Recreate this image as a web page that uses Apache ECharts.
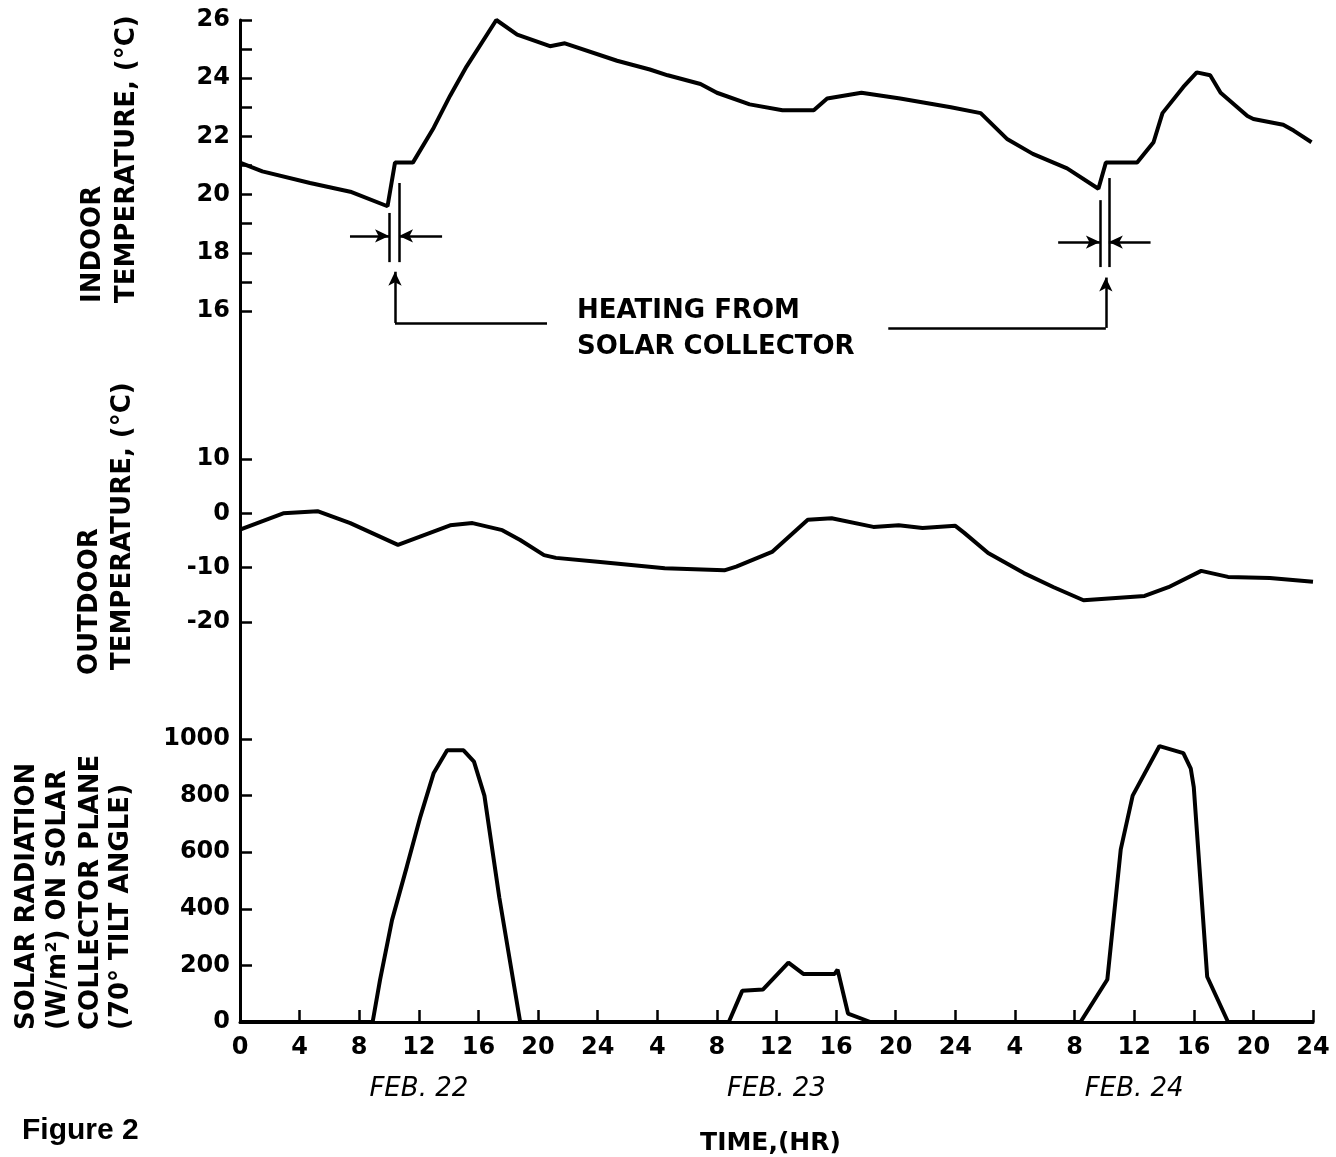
<!DOCTYPE html>
<html><head><meta charset="utf-8">
<script src="https://cdn.jsdelivr.net/npm/echarts@6/dist/echarts.min.js"></script>
<style>html,body{margin:0;padding:0;background:#fff}#c{width:1336px;height:1157px}</style>
</head><body><div id="c"></div>
<script>
// ---- data ----
const indoorHours = [0, 1.5, 4.7, 7.4, 9.9, 10.4, 11.6, 13.0, 14.1, 15.2, 17.2, 18.6, 20.8, 21.8, 25.3, 27.5, 28.7, 30.9, 32.0, 34.2, 36.4, 38.5, 39.4, 41.7, 44.3, 47.7, 49.7, 51.5, 53.2, 55.5, 57.6, 58.1, 60.2, 61.3, 61.9, 63.3, 64.2, 65.1, 65.8, 67.6, 68.0, 70.0, 70.7, 71.9];
const indoorTemp  = [21.1, 20.8, 20.4, 20.1, 19.6, 21.1, 21.1, 22.3, 23.4, 24.4, 26.0, 25.5, 25.1, 25.2, 24.6, 24.3, 24.1, 23.8, 23.5, 23.1, 22.9, 22.9, 23.3, 23.5, 23.3, 23.0, 22.8, 21.9, 21.4, 20.9, 20.2, 21.1, 21.1, 21.8, 22.8, 23.7, 24.2, 24.1, 23.5, 22.7, 22.6, 22.4, 22.2, 21.8];

const outdoorHours = [0, 2.9, 5.2, 7.4, 10.6, 14.1, 15.6, 17.6, 18.8, 20.4, 21.2, 24.0, 28.5, 32.5, 33.3, 35.7, 38.1, 39.7, 42.5, 44.2, 45.8, 48.0, 48.6, 50.2, 52.6, 54.6, 56.6, 60.7, 62.3, 64.5, 66.3, 69.1, 72];
const outdoorTemp  = [-3.0, 0, 0.4, -1.8, -5.8, -2.2, -1.8, -3.1, -4.9, -7.7, -8.2, -8.9, -10.1, -10.5, -9.8, -7.1, -1.2, -0.9, -2.5, -2.2, -2.7, -2.3, -3.6, -7.3, -11.0, -13.6, -16.0, -15.2, -13.6, -10.6, -11.7, -11.9, -12.6];

const solarHours = [0, 8.9, 9.4, 10.2, 11.2, 12.1, 13.0, 13.9, 15.0, 15.7, 16.4, 17.4, 18.8, 32.8, 33.7, 35.1, 36.8, 37.8, 39.9, 40.1, 40.8, 42.3, 56.4, 58.2, 59.1, 59.9, 61.7, 63.3, 63.8, 64.0, 64.9, 66.3, 72];
const solarValue = [0, 0, 150, 360, 550, 725, 880, 960, 960, 920, 800, 440, 0, 0, 110, 115, 210, 170, 170, 185, 30, 0, 0, 150, 610, 800, 975, 950, 895, 830, 160, 0, 0];

const indoorLabels = [16, 18, 20, 22, 24, 26];
const indoorTickValues = [16, 17, 18, 19, 20, 21, 22, 23, 24, 25, 26];
const outdoorLabels = [-20, -10, 0, 10];
const solarLabels = [0, 200, 400, 600, 800, 1000];
const dayCenters = [12, 36, 60];
const dayLabels = ['FEB. 22', 'FEB. 23', 'FEB. 24'];

// heating-period annotation (hour, indoor °C)
const heatingLines = [
  [[10.0, 19.37], [10.0, 17.68]], [[10.67, 20.40], [10.67, 17.68]],
  [[57.7, 19.81], [57.7, 17.51]], [[58.3, 20.57], [58.3, 17.51]],
  [[10.4, 15.59], [20.6, 15.59]], [[43.5, 15.42], [58.1, 15.42]]
];
const heatingArrows = [
  [[7.38, 18.58], [10.0, 18.58]], [[13.56, 18.58], [10.67, 18.58]],
  [[54.9, 18.37], [57.7, 18.37]], [[61.1, 18.37], [58.3, 18.37]],
  [[10.4, 15.59], [10.4, 17.35]], [[58.1, 15.42], [58.1, 17.15]]
];

const zip = (a, b) => a.map((v, i) => [v, b[i]]);
const FONT = 'DejaVu Sans';
const lblStyle = { color: '#000', fontFamily: FONT, fontWeight: 'bold', fontSize: 24, formatter: v => String(v) };
const axisLineStyle = { show: true, lineStyle: { color: '#000', width: 3 } };
const tickStyle = { show: true, inside: true, length: 12, lineStyle: { color: '#000', width: 2.5 } };

const markLineData = heatingLines.map(s => [{ coord: s[0], symbol: 'none' }, { coord: s[1], symbol: 'none' }])
  .concat(heatingArrows.map(s => [{ coord: s[0], symbol: 'none' }, { coord: s[1], symbol: 'arrow' }]));

const hiddenX = (gi) => ({
  type: 'value', gridIndex: gi, min: 0, max: 72, interval: 4,
  axisLine: { show: false }, axisTick: { show: false }, axisLabel: { show: false }, splitLine: { show: false }
});

const TF = 'bold 26px "DejaVu Sans"';
const vText = (x, y, text) => ({ type: 'text', x: x, y: y, rotation: Math.PI / 2,
  style: { text: text, font: TF, fill: '#000', textAlign: 'left', textVerticalAlign: 'middle' } });

const chart = echarts.init(document.getElementById('c'), null, { renderer: 'canvas' });
chart.setOption({
  animation: false,
  backgroundColor: '#fff',
  grid: [
    { left: 240, right: 23, top: 20, height: 360 },
    { left: 240, right: 23, top: 380, height: 320 },
    { left: 240, right: 23, top: 700, height: 322 }
  ],
  xAxis: [
    hiddenX(0), hiddenX(1),
    {
      type: 'value', gridIndex: 2, min: 0, max: 72, interval: 4,
      axisLine: axisLineStyle, axisTick: tickStyle, splitLine: { show: false },
      axisLabel: Object.assign({}, lblStyle, { margin: 14, showMinLabel: true, showMaxLabel: true,
        formatter: v => v === 0 ? '0' : String(((v - 1) % 24) + 1) }),
      name: 'TIME,(HR)', nameLocation: 'middle', nameGap: 109,
      nameTextStyle: { color: '#000', fontFamily: FONT, fontWeight: 'bold', fontSize: 25, padding: [0, 12, 0, 0] }
    },
    {
      type: 'value', gridIndex: 2, min: 0, max: 72, position: 'bottom',
      axisLine: { show: false }, axisTick: { show: false }, splitLine: { show: false },
      axisLabel: { customValues: dayCenters, margin: 54, color: '#000', fontFamily: FONT, fontStyle: 'italic', fontSize: 26,
        formatter: v => dayLabels[dayCenters.indexOf(v)] }
    }
  ],
  yAxis: [
    {
      type: 'value', gridIndex: 0, min: 13.63, max: 26,
      axisLine: axisLineStyle, splitLine: { show: false },
      axisTick: Object.assign({}, tickStyle, { customValues: indoorTickValues }),
      axisLabel: Object.assign({}, lblStyle, { margin: 10, customValues: indoorLabels })
    },
    {
      type: 'value', gridIndex: 1, min: -34.36, max: 24.54,
      axisLine: axisLineStyle, splitLine: { show: false },
      axisTick: Object.assign({}, tickStyle, { customValues: outdoorLabels }),
      axisLabel: Object.assign({}, lblStyle, { margin: 10, customValues: outdoorLabels })
    },
    {
      type: 'value', gridIndex: 2, min: 0, max: 1137.8,
      axisLine: axisLineStyle, splitLine: { show: false },
      axisTick: Object.assign({}, tickStyle, { customValues: solarLabels }),
      axisLabel: Object.assign({}, lblStyle, { margin: 10, customValues: solarLabels })
    }
  ],
  series: [
    {
      type: 'line', xAxisIndex: 0, yAxisIndex: 0, data: zip(indoorHours, indoorTemp),
      showSymbol: false, lineStyle: { color: '#000', width: 4 }, silent: true,
      markLine: { silent: true, symbolSize: [10, 14], label: { show: false },
        lineStyle: { color: '#000', width: 2.5, type: 'solid' }, data: markLineData }
    },
    {
      type: 'line', xAxisIndex: 1, yAxisIndex: 1, data: zip(outdoorHours, outdoorTemp),
      showSymbol: false, lineStyle: { color: '#000', width: 4 }, silent: true
    },
    {
      type: 'line', xAxisIndex: 2, yAxisIndex: 2, data: zip(solarHours, solarValue),
      showSymbol: false, lineStyle: { color: '#000', width: 4 }, silent: true
    }
  ],
  graphic: [
    vText(93, 303, 'INDOOR'),
    vText(127, 303, 'TEMPERATURE, (°C)'),
    vText(90, 675, 'OUTDOOR'),
    vText(123, 670, 'TEMPERATURE, (°C)'),
    vText(27, 1030, 'SOLAR RADIATION'),
    vText(58, 1030, '(W/m²) ON SOLAR'),
    vText(91, 1030, 'COLLECTOR PLANE'),
    vText(121, 1030, '(70° TILT ANGLE)'),
    { type: 'text', left: 577, top: 293, style: { text: 'HEATING FROM\nSOLAR COLLECTOR', font: 'bold 26px "DejaVu Sans"', lineHeight: 36, fill: '#000' } },
    { type: 'text', left: 22, top: 1116, style: { text: 'Figure 2', font: 'bold 30px "Liberation Sans"', fill: '#000' } }
  ]
});
</script>
</body></html>
